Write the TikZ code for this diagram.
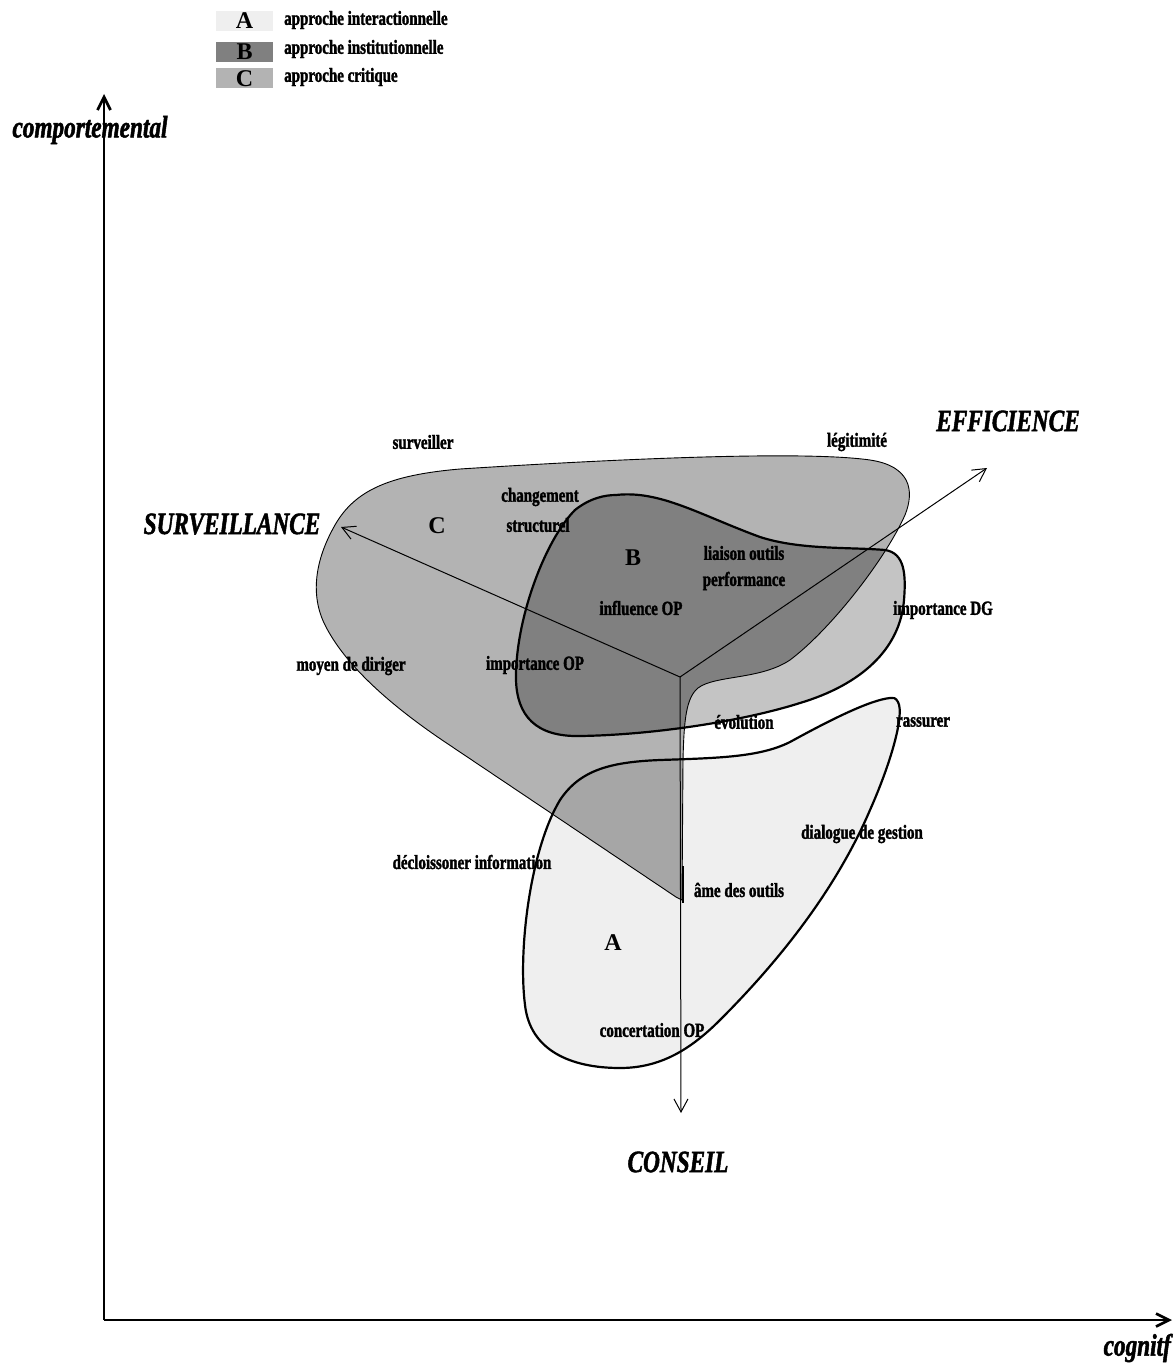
\documentclass[tikz,border=0pt]{standalone}
\usepackage{fontspec}
\setmainfont{Liberation Serif}
\newfontfamily\cndfont[FakeStretch=0.75, BoldFeatures={FakeBold=1.6}, BoldItalicFeatures={FakeBold=1.6}]{Liberation Serif}
\usetikzlibrary{arrows.meta}
\definecolor{colA}{HTML}{EFEFEF}
\definecolor{colB}{HTML}{808080}
\definecolor{colC}{HTML}{B3B3B3}
\definecolor{colCA}{HTML}{A6A6A6}
\definecolor{colLobe}{HTML}{C4C4C4}
\def\shapeCpath{(676,897) -- (445,742)
 .. controls (390,705) and (345,665) .. (325,625)
 .. controls (310,595) and (315,560) .. (335,525)
 .. controls (355,490) and (390,475) .. (460,469)
 .. controls (600,460) and (800,450) .. (870,460)
 .. controls (910,466) and (915,490) .. (905,515)
 .. controls (885,560) and (830,630) .. (790,660)
 .. controls (760,680) and (715,675) .. (698,688)
 .. controls (686,698) and (684,720) .. (683,760)
 -- (682,900) -- cycle}
\def\shapeBpath{(616,495)
 .. controls (660,490) and (700,515) .. (760,537)
 .. controls (800,550) and (850,547) .. (885,550)
 .. controls (905,553) and (906,575) .. (904,600)
 .. controls (900,650) and (860,685) .. (800,703)
 .. controls (740,722) and (650,735) .. (580,736)
 .. controls (535,737) and (517,715) .. (516,680)
 .. controls (515,620) and (545,540) .. (575,510)
 .. controls (590,498) and (605,495) .. (616,495) -- cycle}
\def\shapeApath{(890,698)
 .. controls (870,700) and (830,720) .. (790,742)
 .. controls (760,757) and (720,758) .. (660,760)
 .. controls (610,762) and (580,770) .. (560,800)
 .. controls (530,850) and (518,950) .. (525,1005)
 .. controls (530,1050) and (570,1068) .. (620,1068)
 .. controls (660,1068) and (690,1050) .. (720,1020)
 .. controls (790,950) and (840,880) .. (870,810)
 .. controls (890,765) and (905,715) .. (898,702)
 .. controls (896,698) and (893,697) .. (890,698) -- cycle}
\tikzset{
 lbl/.style={font=\cndfont\bfseries\fontsize{20}{22}\selectfont, inner sep=0pt},
 axlbl/.style={font=\cndfont\bfseries\itshape\fontsize{31}{33}\selectfont, inner sep=0pt},
 letter/.style={font=\bfseries\fontsize{24}{26}\selectfont, inner sep=0pt},
 legbox/.style={minimum width=57pt, minimum height=20pt, inner sep=0pt, font=\bfseries\fontsize{24}{26}\selectfont},
 thinline/.style={line width=0.9pt},
 thickline/.style={line width=2.2pt},
 inneraxis/.style={line width=1pt, -{Straight Barb[length=13pt,width=14pt]}},
 mainaxis/.style={line width=2.7pt, -{Straight Barb[length=13pt,width=13pt]}}
}
\begin{document}
\begin{tikzpicture}[x=1pt,y=-1pt]
\useasboundingbox (0,0) rectangle (1173,1364);
% fills
\fill[colA] \shapeApath;
\fill[colC] \shapeCpath;
\begin{scope}
 \clip \shapeApath;
 \fill[colCA] \shapeCpath;
\end{scope}
\fill[colLobe] \shapeBpath;
\begin{scope}
 \clip \shapeCpath;
 \fill[colB] \shapeBpath;
\end{scope}
% outlines
\draw[thinline] \shapeCpath;
\draw[thickline] \shapeBpath;
\draw[thickline] \shapeApath;
\draw[line width=2pt] (683,866) -- (683,903);
% inner axes
\coordinate (O) at (680,677);
\coordinate (tipS) at (341,527);
\coordinate (tipE) at (987,468);
\coordinate (tipC) at (681,1113);
\draw[inneraxis] (O) -- (tipS);
\draw[inneraxis] (O) -- (tipE);
\draw[inneraxis] (O) -- (tipC);
% main axes
\coordinate (orig) at (104,1320);
\coordinate (ytip) at (104,94);
\coordinate (xtip) at (1172,1320);
\draw[mainaxis] (orig) -- (ytip);
\draw[mainaxis] (orig) -- (xtip);
% axis labels
\node[axlbl] (lcomp) at (90,130) {comportemental};
\node[axlbl, anchor=east] (lcog) at (1171,1348) {cognitf};
\node[axlbl] (lsurv) at (232,524) {SURVEILLANCE};
\node[axlbl] (leff) at (1008,421) {EFFICIENCE};
\node[axlbl] (lcons) at (678,1162) {CONSEIL};
% region letters
\node[letter] (rC) at (437,526) {C};
\node[letter] (rB) at (633,558) {B};
\node[letter] (rA) at (613,943) {A};
% labels
\node[lbl] (t1) at (423,442) {surveiller};
\node[lbl] (t2) at (857,442) {légitimité};
\node[lbl] (t3) at (540,497) {changement};
\node[lbl] (t4) at (538,525) {structurel};
\node[lbl] (t5) at (744,553) {liaison outils};
\node[lbl] (t6) at (744,581) {performance};
\node[lbl] (t7) at (641,608) {influence OP};
\node[lbl] (t8) at (943,610) {importance DG};
\node[lbl] (t9) at (351,666) {moyen de diriger};
\node[lbl] (t10) at (535,665) {importance OP};
\node[lbl] (t11) at (744,722) {évolution};
\node[lbl] (t12) at (923,722) {rassurer};
\node[lbl] (t13) at (862,834) {dialogue de gestion};
\node[lbl] (t14) at (472,862) {décloissoner information};
\node[lbl] (t15) at (739,890) {âme des outils};
\node[lbl] (t16) at (652,1030) {concertation OP};
% legend
\node[legbox, fill=colA] (kA) at (244.5,21) {A};
\node[legbox, fill=colB] (kB) at (244.5,52) {B};
\node[legbox, fill=colC] (kC) at (244.5,78.5) {C};
\node[lbl, anchor=west] (kAt) at (284,20) {approche interactionnelle};
\node[lbl, anchor=west] (kBt) at (284,49) {approche institutionnelle};
\node[lbl, anchor=west] (kCt) at (284,77) {approche critique};
\end{tikzpicture}
\end{document}
